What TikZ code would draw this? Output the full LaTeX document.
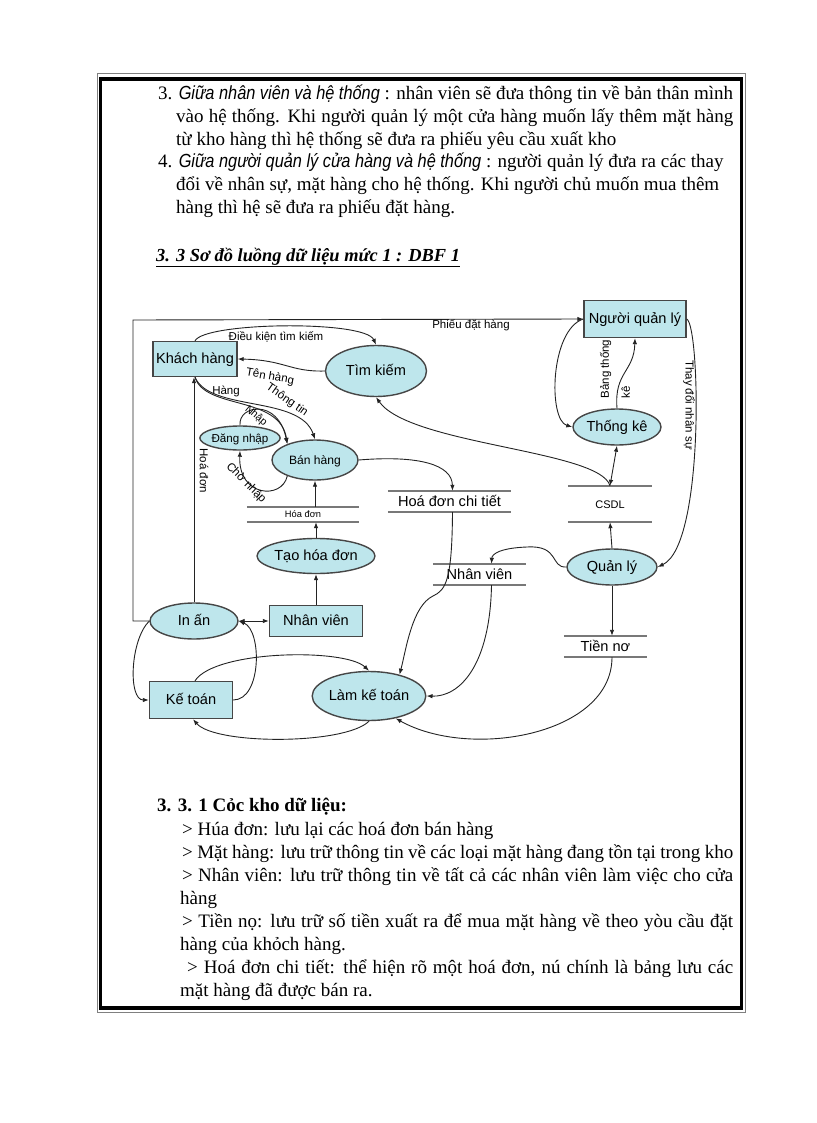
\documentclass[tikz,border=0pt]{standalone}
\usepackage{fontspec}
\setmainfont{Liberation Serif}
\newfontfamily\diafont{Liberation Sans}
\newfontfamily\hepfont[FakeStretch=0.86]{Liberation Sans}
\usetikzlibrary{shapes.geometric,arrows.meta}
\definecolor{nenxanh}{RGB}{190,230,236}
\definecolor{vien}{RGB}{70,70,70}
\definecolor{xamkho}{RGB}{120,120,120}
\definecolor{duong}{RGB}{35,35,35}

\begin{document}
\begin{tikzpicture}[x=1pt,y=1pt,>={Latex[length=6pt,width=4.5pt]},
  thucthe/.style={draw=vien,line width=1.4pt,fill=nenxanh,inner sep=0pt,text height=12pt,text depth=2.5pt,font=\diafont\fontsize{14.6}{16}\selectfont},
  xuly/.style={thucthe,ellipse},
  nho/.style={text height=10pt,text depth=2pt},
  kho/.style={inner sep=0pt,text height=12pt,text depth=2.5pt,font=\diafont\fontsize{14.6}{16}\selectfont},
  kholine/.style={draw=xamkho,line width=2pt},
  luong/.style={draw=duong,line width=0.9pt,->},
  nhan/.style={inner sep=0pt,font=\diafont\fontsize{11.5}{13}\selectfont},
  dong/.style={anchor=base west,inner sep=0pt,font=\fontsize{19}{23}\selectfont}]
  \useasboundingbox (0,0) rectangle (816,-1123);
  % khung trang
  \draw[line width=1pt,draw=gray] (97,-74) rectangle (745,-1012);
  \draw[line width=3.5pt] (100.5,-79) rectangle (741.3,-1008);

  % doan van phia tren
  \node[dong] (t1) at (158,-100) {\makebox[575pt][s]{3. {\hepfont\itshape Giữa nhân viên và hệ thống} : nhân viên sẽ đưa thông tin về bản thân mình}};
  \node[dong] (t2) at (176,-123) {\makebox[557pt][s]{vào hệ thống. Khi người  quản lý một cửa hàng muốn lấy thêm mặt hàng}};
  \node[dong] (t3) at (176,-146) {từ kho hàng thì hệ thống sẽ đưa ra phiếu yêu cầu xuất kho};
  \node[dong] (t4) at (158,-168) {4. {\hepfont\itshape Giữa người quản lý cửa hàng và hệ thống} : người  quản lý đưa ra các thay};
  \node[dong] (t5) at (176,-191) {đổi về nhân sự, mặt hàng cho hệ thống. Khi người chủ muốn mua thêm};
  \node[dong] (t6) at (176,-214) {hàng thì hệ sẽ đưa ra phiếu  đặt hàng.};
  \node[dong,font=\fontsize{18.4}{23}\selectfont] (tde) at (156,-261) {\textbf{\textit{\underline{3. 3 Sơ đồ luồng dữ liệu mức 1 : DBF 1}}}};

  % cac tac nhan va xu ly
  \node[thucthe,minimum width=84pt,minimum height=35pt] (kh) at (195,-359) {Khách hàng};
  \node[thucthe,minimum width=102pt,minimum height=37pt] (nql) at (635,-319) {Người quản lý};
  \node[thucthe,minimum width=93pt,minimum height=31pt] (nv) at (316,-621) {Nhân viên};
  \node[thucthe,minimum width=83pt,minimum height=37pt] (kt) at (191,-700) {Kế toán};
  \node[xuly,minimum width=101pt,minimum height=51pt] (tk) at (376,-371) {Tìm kiếm};
  \node[xuly,minimum width=88pt,minimum height=36pt] (tke) at (617,-427) {Thống kê};
  \node[xuly,nho,minimum width=64pt,minimum height=24pt,font=\diafont\fontsize{11.6}{13}\selectfont] (dn) at (240,-438) {Đăng nhập};
  \node[xuly,nho,minimum width=86pt,minimum height=40pt,font=\diafont\fontsize{12.1}{14}\selectfont] (bh) at (315,-460) {Bán hàng};
  \node[xuly,minimum width=97pt,minimum height=35pt] (thd) at (316,-556) {Tạo hóa đơn};
  \node[xuly,minimum width=88pt,minimum height=36pt] (ia) at (194,-621) {In ấn};
  \node[xuly,minimum width=110pt,minimum height=49pt] (lkt) at (369,-696) {Làm kế toán};
  \node[xuly,minimum width=90pt,minimum height=36pt] (ql) at (612,-567) {Quản lý};

  % kho du lieu
  \node[kho,text height=8pt,text depth=1.5pt,minimum width=112pt,minimum height=15pt,font=\diafont\fontsize{9.3}{11}\selectfont] (hd) at (303,-514.5) {Hóa đơn};
  \node[kho,minimum width=123pt,minimum height=21pt] (hdct) at (449.5,-501.5) {Hoá đơn chi tiết};
  \node[kho,nho,minimum width=84pt,minimum height=36pt,font=\diafont\fontsize{11}{13}\selectfont] (csdl) at (610,-504) {CSDL};
  \node[kho,minimum width=93pt,minimum height=21pt] (nvk) at (479.5,-574.5) {Nhân viên};
  \node[kho,minimum width=83pt,minimum height=21pt] (tn) at (605.5,-646.5) {Tiền nơ};
  \foreach \k in {hd,hdct,csdl,nvk,tn}
    \draw[kholine] (\k.north west) -- (\k.north east) (\k.south west) -- (\k.south east);

  \coordinate (goc) at (133,-320);

  % luong du lieu
  \draw[luong] (kh.north) .. controls (205,-322) and (365,-320) .. (tk.north);
  \node[nhan] (ldk) at (276,-337) {Điều kiện tìm kiếm};
  \draw[luong] (tk.west) .. controls (290,-372) and (285,-360) .. (kh.east);
  \node[nhan,rotate=-10] (lth) at (270,-377) {Tên hàng};
  \draw[luong] (kh.south) .. controls (205,-410) and (280,-395) .. (bh.150);
  \node[nhan] (lh) at (226,-391) {Hàng};
  \draw[luong] (kh.south) .. controls (210,-412) and (300,-395) .. (bh.north);
  \node[nhan,rotate=-35] (lti) at (287,-400) {Thông tin};
  \draw[luong] (dn.north) .. controls (238,-405) and (278,-398) .. (bh.150);
  \node[nhan,rotate=-40,font=\diafont\fontsize{10.5}{12}\selectfont] (ln) at (256,-416) {Nhập};
  \draw[luong] (bh.210) .. controls (282,-500) and (238,-497) .. (dn.south);
  \node[nhan,rotate=-45] (lcn) at (246,-483) {Chờ nhập};
  \draw[luong] (bh.south |- hd.north) -- (bh.south);
  \draw[luong] (thd.north) -- (thd.north |- hd.south);
  \draw[luong] (nv.north) -- (thd.south);
  \draw[luong,<->] (ia.east) -- (nv.west);
  \draw[luong] (ia.north) -- (ia.north |- kh.south);
  \node[nhan,rotate=-90] (lhd) at (204,-471) {Hoá đơn};
  \draw[luong] (ia.west) -| (goc) -- (nql.west);
  \node[nhan] (lpdh) at (471,-325) {Phiếu đặt hàng};
  \draw[luong] (nql.west) .. controls (550,-330) and (548,-420) .. (tke.west);
  \draw[luong] (tke.north) .. controls (614,-372) and (634,-372) .. (nql.south);
  \node[nhan,rotate=90,align=left,font=\diafont\fontsize{11.5}{21}\selectfont] (lbtk) at (615,-369) {Bảng thống\\kê};
  \draw[luong] (nql.east) .. controls (700,-325) and (705,-545) .. (ql.east);
  \node[nhan,rotate=-90] (ltd) at (689,-405) {Thay đổi nhân sự};
  \draw[luong] (csdl.north) .. controls (600,-450) and (410,-445) .. (tk.south);
  \draw[luong,<->] (tke.south) -- (csdl.north);
  \draw[luong] (ql.north) -- (csdl.south);
  \draw[luong] (ql.west) .. controls (550,-568) and (560,-545) .. (527,-547) .. controls (500,-548) and (492,-554) .. ([xshift=12pt]nvk.north);
  \draw[luong] (ql.south) -- (ql.south |- tn.north);
  \draw[luong] (ql.south |- tn.south) .. controls (612,-735) and (470,-760) .. (lkt.320);
  \draw[luong] ([xshift=12pt]nvk.south) .. controls (490,-665) and (460,-697) .. (lkt.east);
  \draw[luong] ([xshift=3pt]hdct.south) .. controls (452,-580) and (446,-590) .. (433,-596) .. controls (412,-606) and (406,-650) .. (lkt.35);
  \draw[luong] (bh.east) .. controls (420,-455) and (452,-465) .. ([xshift=3pt]hdct.north);
  \draw[luong] (ia.west) .. controls (130,-640) and (128,-700) .. (kt.west);
  \draw[luong] (kt.east) .. controls (262,-700) and (262,-630) .. (ia.east);
  \draw[luong] ([xshift=4pt]kt.north) .. controls (215,-650) and (345,-648) .. (lkt.north);
  \draw[luong] (lkt.south) .. controls (345,-745) and (215,-745) .. ([xshift=2pt]kt.south);

  % doan van phia duoi
  \node[dong] (b0) at (157,-811) {\textbf{3. 3. 1 Cỏc kho dữ liệu:}};
  \node[dong] (b1) at (182,-835) {> Húa đơn: lưu lại  các hoá đơn bán hàng};
  \node[dong] (b2) at (182,-858) {\makebox[551pt][s]{> Mặt hàng: lưu trữ thông tin về các loại mặt hàng đang tồn tại trong kho}};
  \node[dong] (b3) at (182,-881) {\makebox[551pt][s]{> Nhân viên:  lưu trữ thông tin về tất cả các nhân viên làm việc cho cửa}};
  \node[dong] (b4) at (180,-904) {hàng};
  \node[dong] (b5) at (182,-927) {\makebox[551pt][s]{> Tiền nọ: lưu trữ số tiền xuất ra để mua mặt hàng về theo yòu cầu đặt}};
  \node[dong] (b6) at (180,-950) {hàng của khỏch hàng.};
  \node[dong] (b7) at (187,-973) {\makebox[546pt][s]{> Hoá đơn chi tiết:  thể hiện rõ một hoá đơn, nú chính là bảng lưu các}};
  \node[dong] (b8) at (180,-996) {mặt hàng đã được bán ra.};
\end{tikzpicture}
\end{document}
